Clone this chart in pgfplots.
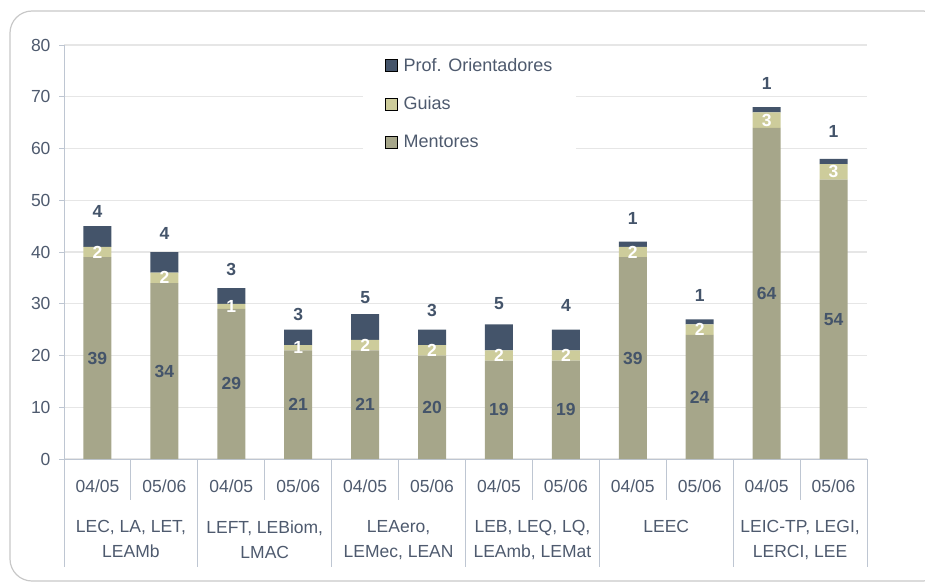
\documentclass[border=0pt]{standalone}
\usepackage{fontspec}
\setmainfont{Liberation Sans}
\usepackage{pgfplots}
\usepackage{pgfplotstable}
\pgfplotsset{compat=1.18}
\definecolor{ment}{RGB}{166,166,138}
\definecolor{guia}{RGB}{205,204,155}
\definecolor{prof}{RGB}{68,84,106}
\definecolor{txt}{RGB}{68,84,106}
\definecolor{tickc}{RGB}{78,90,110}
\definecolor{axisc}{RGB}{190,198,210}
\definecolor{gridc}{RGB}{230,230,230}
\definecolor{framec}{RGB}{200,200,200}
% bar values
\pgfplotstableread{
x m g p
0 39 2 4
1 34 2 4
2 29 1 3
3 21 1 3
4 21 2 5
5 20 2 3
6 19 2 5
7 19 2 4
8 39 2 1
9 24 2 1
10 64 3 1
11 54 3 1
}\datatable
% label positions (axis units) and label values
\pgfplotstableread{
x ym m yg g yp p
0 19.5 39 40 2 47.79 4
1 17 34 35 2 43.61 4
2 14.5 29 29.5 1 36.71 3
3 10.5 21 21.5 1 27.83 3
4 10.5 21 22 2 31.25 5
5 10 20 21 2 28.79 3
6 9.5 19 20 2 30.09 5
7 9.5 19 20 2 29.76 4
8 19.5 39 40 2 46.51 1
9 12 24 25 2 31.69 1
10 32 64 65.5 3 72.60 1
11 27 54 55.5 3 63.25 1
}\labeltable
\tikzset{grp/.style={anchor=north, align=center, inner sep=0pt,
    font=\fontsize{17.5}{25}\selectfont, text=tickc, yshift=-61.5pt}}
\pgfplotsset{geom/.style={at={(64pt,-459pt)}, anchor=south west,
  scale only axis, width=803pt, height=414pt,
  xmin=-0.5, xmax=11.5, ymin=0, ymax=80, clip=false}}
\begin{document}
\begin{tikzpicture}
\useasboundingbox (0pt,0pt) rectangle (925pt,-583pt);
\draw[framec, line width=1.2pt, rounded corners=22pt] (10pt,-11pt) rectangle (945pt,-581pt);
\begin{axis}[
  geom,
  ybar stacked, bar width=28pt,
  axis lines=left, axis line style={-, draw=axisc, line width=1pt},
  ytick={0,10,...,80}, ymajorgrids, grid style={draw=gridc, line width=1.2pt},
  tick align=outside, major tick length=5pt,
  ytick style={draw=axisc, line width=1pt},
  xtick={0,...,11},
  xticklabels={04/05,05/06,04/05,05/06,04/05,05/06,04/05,05/06,04/05,05/06,04/05,05/06},
  x tick style={draw=none},
  /pgf/number format/assume math mode=true,
  ticklabel style={font=\fontsize{17.5}{21}\selectfont, text=tickc},
  xticklabel style={anchor=center, yshift=-22pt},
  yticklabel style={xshift=-5pt},
  reverse legend,
  legend cell align=left,
  legend image code/.code={\draw[#1] (0pt,-6pt) rectangle (12pt,6pt);},
  legend style={at={(0.3724,0.993)}, anchor=north west, draw=none, fill=white,
    font=\fontsize{18}{21}\selectfont, text=tickc, inner xsep=22pt, inner ysep=8pt,
    row sep=20pt, column sep=4pt},
]
\addplot[fill=ment, draw=none] table[x=x, y=m] {\datatable};
\addlegendentry{Mentores}
\addplot[fill=guia, draw=none] table[x=x, y=g] {\datatable};
\addlegendentry{Guias}
\addplot[fill=prof, draw=none] table[x=x, y=p] {\datatable};
\addlegendentry{Prof. Orientadores}
\pgfplotsinvokeforeach{0.5,2.5,4.5,6.5,8.5,10.5}{
  \draw[axisc, line width=1pt] (axis cs:#1,0) -- ++(0pt,-41pt);}
\pgfplotsinvokeforeach{-0.5,1.5,3.5,5.5,7.5,9.5,11.5}{
  \draw[axisc, line width=1pt] (axis cs:#1,0) -- ++(0pt,-108pt);}
\node[grp] at (axis cs:0.5,0) {LEC, LA, LET,\\LEAMb};
\node[grp] at (axis cs:2.5,0) {LEFT, LEBiom,\\LMAC};
\node[grp] at (axis cs:4.5,0) {LEAero,\\LEMec, LEAN};
\node[grp] at (axis cs:6.5,0) {LEB, LEQ, LQ,\\LEAmb, LEMat};
\node[grp] at (axis cs:8.5,0) {LEEC};
\node[grp] at (axis cs:10.5,0) {LEIC-TP, LEGI,\\LERCI, LEE};
\end{axis}
\begin{axis}[geom, hide axis,
  nodes near coords, point meta=explicit symbolic,
  every node near coord/.append style={anchor=center, inner sep=0pt,
    font=\bfseries\fontsize{17.5}{20}\selectfont}]
\addplot[draw=none, mark=none, every node near coord/.append style={text=txt}]
  table[x=x, y=ym, meta=m] {\labeltable};
\addplot[draw=none, mark=none, every node near coord/.append style={text=white}]
  table[x=x, y=yg, meta=g] {\labeltable};
\addplot[draw=none, mark=none, every node near coord/.append style={text=txt}]
  table[x=x, y=yp, meta=p] {\labeltable};
\end{axis}
\end{tikzpicture}
\end{document}
